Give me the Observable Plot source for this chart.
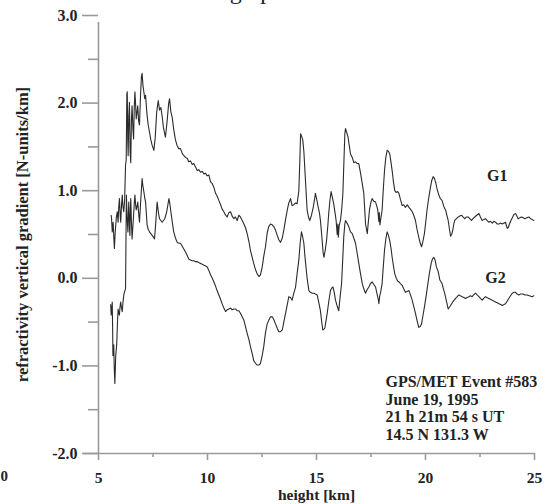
<!DOCTYPE html>
<html>
<head>
<meta charset="utf-8">
<script src="https://cdn.jsdelivr.net/npm/d3@7"></script>
<script src="https://cdn.jsdelivr.net/npm/@observablehq/plot@0.6"></script>
<style>
  html, body { margin: 0; padding: 0; background: #fff; }
  #chart { width: 547px; height: 504px; overflow: hidden; }
</style>
</head>
<body>
<div id="chart"></div>
<script>
// ---- axis setup ----
const xDomain = [5, 25];
const yDomain = [-2, 3];
const xMajorTicks = [5, 10, 15, 20, 25];
const xMinorTicks = [7.5, 12.5, 17.5, 22.5];
const yMajorTicks = [-2, -1, 0, 1, 2, 3];
const yMinorTicks = [-1.5, -0.5, 0.5, 1.5, 2.5];
const xTitle = "height [km]";
const yTitle = "refractivity vertical gradient [N-units/km]";
const annotation = ["GPS/MET Event #583", "June 19, 1995", "21 h 21m 54 s UT", "14.5 N 131.3 W"];
const seriesNames = ["G1", "G2"];
const labelX = [23.29, 23.21];
const labelY = [1.17, 0.0];

// ---- series G1 (height km, gradient) ----
const g1Km = [5.58,5.60,5.63,5.67,5.70,5.73,5.76,5.78,5.82,5.86,5.90,5.93,5.96,6.00,6.02,6.06,6.09,6.12,6.16,6.20,6.24,6.27,6.30,6.32,6.34,6.36,6.39,6.42,6.45,6.48,6.51,6.54,6.58,6.61,6.64,6.67,6.70,6.73,6.77,6.80,6.84,6.88,6.93,6.97,7.00,7.04,7.08,7.12,7.16,7.20,7.23,7.28,7.34,7.40,7.46,7.54,7.60,7.67,7.74,7.80,7.86,7.92,7.98,8.07,8.15,8.22,8.26,8.32,8.38,8.45,8.53,8.60,8.68,8.76,8.85,8.92,8.99,9.07,9.14,9.22,9.30,9.37,9.45,9.53,9.60,9.68,9.76,9.84,9.91,9.98,10.06,10.14,10.22,10.29,10.37,10.44,10.52,10.60,10.67,10.75,10.83,10.90,10.98,11.06,11.13,11.21,11.28,11.36,11.44,11.51,11.59,11.67,11.74,11.82,11.90,11.97,12.05,12.12,12.20,12.28,12.36,12.43,12.51,12.58,12.66,12.74,12.81,12.89,12.97,13.04,13.12,13.20,13.27,13.35,13.43,13.50,13.58,13.66,13.73,13.81,13.88,13.96,14.04,14.11,14.19,14.23,14.27,14.32,14.37,14.42,14.46,14.52,14.57,14.63,14.69,14.77,14.85,14.91,14.95,15.01,15.08,15.14,15.18,15.22,15.26,15.30,15.34,15.40,15.46,15.52,15.56,15.62,15.67,15.73,15.79,15.85,15.90,15.95,15.98,16.00,16.04,16.10,16.16,16.21,16.26,16.30,16.33,16.39,16.45,16.50,16.56,16.64,16.71,16.79,16.87,16.94,17.02,17.10,17.17,17.22,17.25,17.33,17.38,17.43,17.49,17.55,17.63,17.71,17.76,17.81,17.86,17.88,17.91,17.96,18.01,18.06,18.12,18.18,18.24,18.30,18.36,18.42,18.47,18.53,18.59,18.65,18.72,18.78,18.85,18.93,19.00,19.08,19.16,19.24,19.31,19.39,19.46,19.54,19.61,19.69,19.76,19.82,19.88,19.95,20.01,20.07,20.15,20.23,20.29,20.35,20.41,20.46,20.53,20.61,20.68,20.76,20.84,20.92,20.98,21.04,21.10,21.15,21.20,21.25,21.30,21.34,21.42,21.50,21.57,21.65,21.72,21.80,21.88,21.96,22.03,22.11,22.18,22.26,22.35,22.45,22.52,22.60,22.67,22.75,22.82,22.90,22.98,23.06,23.13,23.21,23.29,23.37,23.45,23.52,23.60,23.67,23.75,23.80,23.85,23.92,24.00,24.06,24.13,24.19,24.25,24.32,24.40,24.48,24.56,24.65,24.74,24.82,24.90,24.97];
const g1Val = [0.72,0.68,0.53,0.64,0.48,0.34,0.50,0.57,0.70,0.76,0.64,0.82,0.91,0.70,0.64,0.85,0.95,0.82,0.76,0.90,1.29,1.35,2.10,2.13,1.60,1.40,1.85,2.01,1.45,1.32,1.80,1.97,1.70,1.59,1.95,2.13,2.00,1.82,1.90,1.97,1.80,1.75,2.10,2.30,2.34,2.20,2.13,2.05,2.09,1.95,1.86,1.75,1.67,1.58,1.52,1.46,1.60,1.90,2.03,1.92,1.95,1.85,1.72,1.61,1.80,2.00,2.05,1.90,1.84,1.70,1.58,1.52,1.48,1.48,1.42,1.40,1.38,1.37,1.33,1.34,1.30,1.31,1.27,1.23,1.24,1.21,1.22,1.19,1.20,1.17,1.18,1.10,1.08,1.04,0.97,0.94,0.89,0.84,0.79,0.76,0.72,0.70,0.75,0.76,0.71,0.68,0.70,0.66,0.72,0.70,0.66,0.62,0.58,0.51,0.42,0.32,0.24,0.17,0.10,0.05,0.02,0.04,0.13,0.25,0.36,0.52,0.59,0.62,0.61,0.59,0.55,0.49,0.44,0.41,0.46,0.55,0.67,0.78,0.86,0.91,0.83,0.84,0.86,0.85,1.00,1.30,1.65,1.62,1.58,1.45,1.27,1.00,0.78,0.70,0.66,0.72,0.81,0.90,0.97,0.90,0.81,0.74,0.66,0.55,0.43,0.30,0.24,0.32,0.43,0.60,0.74,0.90,0.99,0.92,0.85,0.75,0.66,0.50,0.62,0.47,0.60,0.66,0.80,0.97,1.35,1.65,1.71,1.66,1.61,1.52,1.42,1.38,1.32,1.33,1.31,1.31,1.20,1.08,0.97,0.75,0.62,0.51,0.65,0.78,0.86,0.91,0.88,0.87,0.83,0.78,0.65,0.75,0.61,0.70,0.78,1.00,1.23,1.38,1.46,1.45,1.42,1.32,1.23,1.10,1.00,0.98,0.99,0.97,0.90,0.83,0.84,0.81,0.84,0.81,0.79,0.76,0.72,0.66,0.56,0.47,0.40,0.36,0.42,0.51,0.64,0.78,0.92,1.04,1.12,1.16,1.14,1.10,1.02,0.95,0.91,0.89,0.82,0.78,0.72,0.66,0.56,0.48,0.50,0.55,0.62,0.66,0.68,0.70,0.71,0.72,0.70,0.68,0.70,0.70,0.68,0.66,0.68,0.70,0.72,0.74,0.70,0.66,0.67,0.68,0.66,0.64,0.65,0.63,0.65,0.64,0.62,0.62,0.63,0.62,0.63,0.64,0.57,0.58,0.62,0.66,0.70,0.73,0.74,0.71,0.68,0.69,0.70,0.69,0.68,0.69,0.70,0.68,0.67,0.66];

// ---- series G2 (height km, gradient) ----
const g2Km = [5.56,5.58,5.61,5.63,5.65,5.66,5.68,5.70,5.72,5.75,5.77,5.79,5.82,5.84,5.87,5.90,5.93,5.96,5.99,6.02,6.05,6.09,6.12,6.16,6.20,6.24,6.28,6.31,6.35,6.37,6.39,6.42,6.44,6.46,6.48,6.51,6.54,6.58,6.61,6.64,6.67,6.70,6.73,6.77,6.80,6.84,6.88,6.94,7.00,7.04,7.08,7.12,7.16,7.20,7.23,7.28,7.34,7.40,7.46,7.52,7.57,7.63,7.69,7.75,7.80,7.86,7.92,7.98,8.04,8.13,8.23,8.28,8.32,8.38,8.45,8.53,8.61,8.70,8.76,8.81,8.90,8.99,9.07,9.14,9.22,9.30,9.37,9.45,9.53,9.60,9.68,9.76,9.84,9.91,9.99,10.06,10.14,10.22,10.29,10.37,10.44,10.52,10.60,10.67,10.75,10.83,10.90,10.98,11.06,11.13,11.21,11.28,11.36,11.44,11.51,11.59,11.67,11.74,11.82,11.90,11.97,12.05,12.12,12.20,12.28,12.36,12.43,12.51,12.58,12.66,12.74,12.81,12.89,12.97,13.04,13.12,13.20,13.27,13.35,13.43,13.50,13.58,13.66,13.73,13.81,13.88,13.96,14.04,14.11,14.19,14.25,14.31,14.36,14.42,14.46,14.50,14.57,14.65,14.72,14.80,14.88,14.95,15.03,15.10,15.18,15.24,15.29,15.34,15.38,15.44,15.49,15.56,15.64,15.70,15.76,15.82,15.87,15.94,16.02,16.08,16.15,16.20,16.25,16.30,16.33,16.40,16.48,16.56,16.64,16.71,16.79,16.87,16.94,17.02,17.10,17.17,17.25,17.32,17.40,17.48,17.55,17.63,17.71,17.78,17.84,17.86,17.90,17.95,18.01,18.06,18.12,18.18,18.24,18.30,18.36,18.42,18.47,18.53,18.59,18.66,18.72,18.78,18.85,18.93,19.00,19.08,19.16,19.24,19.31,19.39,19.46,19.54,19.61,19.69,19.76,19.82,19.88,19.95,20.03,20.11,20.18,20.26,20.32,20.38,20.44,20.50,20.58,20.66,20.76,20.82,20.88,20.96,21.04,21.10,21.15,21.25,21.38,21.46,21.53,21.60,21.68,21.76,21.83,21.91,21.99,22.06,22.14,22.21,22.29,22.37,22.45,22.52,22.60,22.67,22.75,22.82,22.90,22.98,23.06,23.13,23.21,23.29,23.37,23.45,23.52,23.60,23.67,23.75,23.82,23.90,23.98,24.06,24.13,24.20,24.28,24.36,24.47,24.56,24.66,24.77,24.89,24.97];
const g2Val = [-0.30,-0.42,-0.35,-0.27,-0.60,-0.88,-0.80,-0.76,-1.00,-1.20,-1.05,-0.88,-0.80,-0.73,-0.50,-0.35,-0.40,-0.42,-0.32,-0.27,-0.33,-0.38,-0.28,-0.19,-0.15,-0.12,0.95,0.70,0.53,0.75,0.87,0.60,0.49,0.75,0.91,0.65,0.45,0.60,0.72,0.85,0.95,0.85,0.78,0.82,0.87,0.75,0.64,0.90,1.14,1.05,0.99,0.92,0.87,0.72,0.61,0.56,0.53,0.51,0.49,0.47,0.45,0.65,0.87,0.75,0.68,0.66,0.64,0.66,0.68,0.76,0.91,0.84,0.76,0.65,0.53,0.46,0.41,0.40,0.40,0.38,0.34,0.30,0.26,0.22,0.21,0.20,0.20,0.19,0.19,0.18,0.17,0.16,0.15,0.14,0.13,0.09,0.04,0.00,-0.04,-0.09,-0.14,-0.19,-0.24,-0.29,-0.34,-0.38,-0.36,-0.35,-0.34,-0.36,-0.35,-0.35,-0.37,-0.37,-0.40,-0.44,-0.48,-0.55,-0.63,-0.70,-0.78,-0.86,-0.94,-0.97,-0.99,-0.99,-0.97,-0.88,-0.78,-0.62,-0.52,-0.48,-0.44,-0.44,-0.47,-0.52,-0.57,-0.61,-0.61,-0.59,-0.50,-0.40,-0.30,-0.21,-0.22,-0.25,-0.17,-0.10,0.05,0.21,0.40,0.53,0.48,0.40,0.28,0.17,0.00,-0.14,-0.16,-0.17,-0.17,-0.18,-0.19,-0.27,-0.37,-0.50,-0.59,-0.58,-0.57,-0.48,-0.40,-0.27,-0.14,-0.11,-0.10,-0.17,-0.25,-0.31,-0.37,-0.22,-0.06,0.20,0.47,0.62,0.66,0.63,0.59,0.53,0.51,0.46,0.40,0.28,0.17,0.05,-0.06,-0.12,-0.17,-0.13,-0.10,-0.06,-0.04,-0.07,-0.10,-0.18,-0.25,-0.29,-0.20,-0.15,-0.06,0.12,0.32,0.45,0.53,0.49,0.43,0.34,0.24,0.14,0.05,0.00,-0.03,-0.04,-0.06,-0.08,-0.12,-0.16,-0.15,-0.14,-0.19,-0.25,-0.32,-0.40,-0.48,-0.56,-0.55,-0.52,-0.43,-0.33,-0.20,-0.06,0.06,0.17,0.22,0.24,0.21,0.13,0.08,-0.02,-0.06,-0.12,-0.17,-0.26,-0.35,-0.33,-0.31,-0.27,-0.23,-0.21,-0.19,-0.20,-0.21,-0.22,-0.23,-0.22,-0.21,-0.20,-0.21,-0.19,-0.17,-0.19,-0.21,-0.23,-0.25,-0.23,-0.21,-0.22,-0.23,-0.24,-0.25,-0.26,-0.27,-0.28,-0.29,-0.30,-0.31,-0.30,-0.29,-0.26,-0.23,-0.20,-0.17,-0.16,-0.16,-0.18,-0.19,-0.18,-0.18,-0.19,-0.19,-0.20,-0.21,-0.20];

const g1 = g1Km.map((k, i) => ({km: k, v: g1Val[i]}));
const g2 = g2Km.map((k, i) => ({km: k, v: g2Val[i]}));
const labels = seriesNames.map((n, i) => ({name: n, km: labelX[i], v: labelY[i]}));

const font = "'Liberation Serif', 'Times New Roman', serif";
const axisColor = "#9a9a9a";
const inkColor = "#222";

const plot = Plot.plot({
  width: 547,
  height: 504,
  marginLeft: 98,
  marginRight: 13,
  marginTop: 15,
  marginBottom: 51,
  style: {fontFamily: font, fontSize: "16px", fontWeight: "bold", color: inkColor, background: "#fff"},
  x: {domain: xDomain, axis: null},
  y: {domain: yDomain, axis: null},
  marks: [
    // axis lines
    Plot.ruleX([xDomain[0]], {y1: yDomain[0], y2: yDomain[1], insetBottom: -7, stroke: axisColor, strokeWidth: 1.6}),
    Plot.ruleY([yDomain[0]], {x1: xDomain[0], x2: xDomain[1], insetLeft: -15, insetRight: -1, stroke: axisColor, strokeWidth: 1.6}),
    // y ticks
    Plot.axisY({ticks: yMajorTicks, label: null, tickSize: 16, tickPadding: 5, tickFormat: d => d.toFixed(1), stroke: axisColor, strokeWidth: 1.6, fill: inkColor}),
    Plot.axisY({ticks: yMinorTicks, label: null, tickSize: 10, tickFormat: () => "", stroke: axisColor, strokeWidth: 1.6}),
    // x ticks
    Plot.axisX({ticks: xMajorTicks, label: null, tickSize: 7, tickPadding: 11, fontSize: 15.5, tickFormat: d => String(d), stroke: axisColor, strokeWidth: 1.6, fill: inkColor}),
    Plot.axisX({ticks: xMinorTicks, label: null, tickSize: 4, tickFormat: () => "", stroke: axisColor, strokeWidth: 1.6}),
    // titles
    Plot.text([yTitle], {frameAnchor: "left", textAnchor: "middle", rotate: -90, dx: -76, fontSize: 16.5, fontWeight: "bold", fill: inkColor}),
    Plot.text([xTitle], {frameAnchor: "bottom", dy: 46.5, fontSize: 15.5, fontWeight: "bold", fill: inkColor}),
    // data
    Plot.line(g1, {x: "km", y: "v", stroke: "#2b2b2b", strokeWidth: 1.1}),
    Plot.line(g2, {x: "km", y: "v", stroke: "#2b2b2b", strokeWidth: 1.1}),
    // series labels
    Plot.text(labels, {x: "km", y: "v", text: "name", fontSize: 16, fontWeight: "bold", fill: inkColor}),
    // annotation block
    Plot.text([annotation.join("\n")], {x: 18.165, y: -1.10, textAnchor: "start", lineAnchor: "top", lineHeight: 1.1, fontSize: 16, fontWeight: "bold", fill: inkColor})
  ]
});

document.getElementById("chart").appendChild(plot);

// stray fragments at the crop edges of the original figure
const svg = d3.select(plot);
svg.append("text").attr("x", 8).attr("y", 481).attr("text-anchor", "end")
  .attr("font-family", font).attr("font-weight", "bold").attr("font-size", 15).attr("fill", inkColor).text("0");
svg.append("text").attr("x", 257).attr("y", -1).attr("font-family", font).attr("font-weight", "normal")
  .attr("font-size", 24).attr("fill", inkColor).text("graph");
</script>
</body>
</html>
